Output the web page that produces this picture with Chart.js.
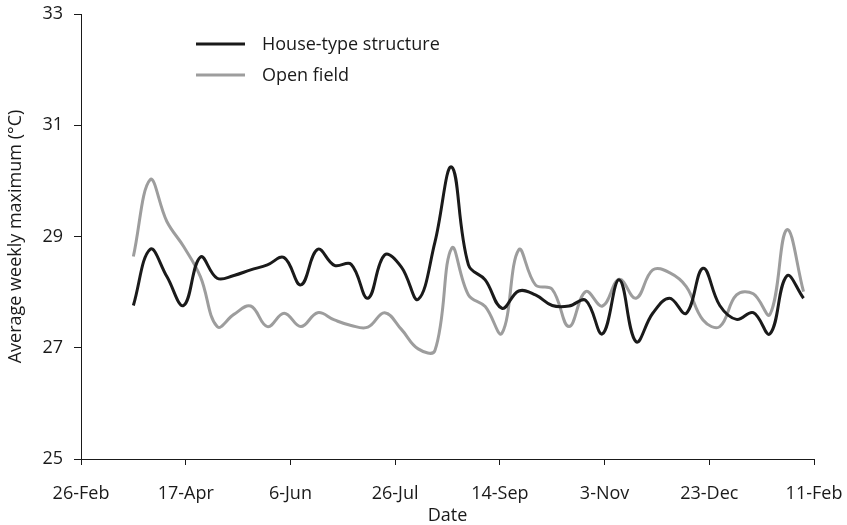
<!DOCTYPE html>
<html>
<head>
<meta charset="utf-8">
<script src="https://cdn.jsdelivr.net/npm/chart.js@4"></script>
<style>
  html, body { margin: 0; padding: 0; background: #ffffff; }
  #wrap { width: 847px; height: 525px; }
</style>
</head>
<body>
<div id="wrap"><canvas id="chart" width="847" height="525"></canvas></div>
<script>
// Day of the season, counted from 26-Feb, for each reading
const days = [25, 33, 41, 49, 57, 65, 73, 81, 89, 97, 105, 113, 121, 129, 137, 145,
  153, 161, 169, 177, 185, 193, 201, 209, 217, 225, 233, 241, 249, 257, 265, 273,
  281, 289, 297, 305, 313, 321, 329, 337, 345];

// Average weekly maximum temperature (°C)
const houseType = [27.76, 28.77, 28.28, 27.76, 28.63, 28.25, 28.30, 28.40, 28.49, 28.62,
  28.13, 28.77, 28.48, 28.50, 27.89, 28.67, 28.45, 27.87, 28.90, 30.25,
  28.49, 28.22, 27.71, 28.02, 27.95, 27.76, 27.75, 27.85, 27.25, 28.22,
  27.11, 27.62, 27.89, 27.62, 28.43, 27.76, 27.51, 27.63, 27.25, 28.29, 27.89];

const openField = [28.64, 30.02, 29.27, 28.82, 28.28, 27.38, 27.60, 27.75, 27.38, 27.62,
  27.38, 27.63, 27.50, 27.40, 27.37, 27.63, 27.33, 26.98, 26.95, 28.79,
  27.95, 27.74, 27.26, 28.76, 28.13, 28.05, 27.38, 28.01, 27.75, 28.23,
  27.89, 28.40, 28.35, 28.10, 27.50, 27.38, 27.95, 27.97, 27.60, 29.12, 28.01];

const seriesNames = ['House-type structure', 'Open field'];
const xTickLabels = ['26-Feb', '17-Apr', '6-Jun', '26-Jul', '14-Sep', '3-Nov', '23-Dec', '11-Feb'];

const FONT = '"Open Sans", Lato, sans-serif';
const FONT_SIZE = 18;
const INK = '#1a1a1a';
const GREY = '#9d9d9d';

function toPoints(values) {
  return values.map((v, i) => ({ x: days[i], y: v }));
}

// Legend drawn inside the plot area, top left
const insideLegend = {
  id: 'insideLegend',
  afterDraw(chart) {
    const ctx = chart.ctx;
    ctx.save();
    ctx.font = FONT_SIZE + 'px ' + FONT;
    ctx.textBaseline = 'middle';
    ctx.textAlign = 'left';
    chart.data.datasets.forEach((ds, i) => {
      const y = 44 + i * 31;
      ctx.strokeStyle = ds.borderColor;
      ctx.lineWidth = 3;
      ctx.beginPath();
      ctx.moveTo(196, y);
      ctx.lineTo(245, y);
      ctx.stroke();
      ctx.fillStyle = INK;
      ctx.fillText(ds.label, 262, y + 1);
    });
    ctx.restore();
  }
};

new Chart(document.getElementById('chart'), {
  type: 'line',
  data: {
    datasets: [
      {
        label: seriesNames[0],
        data: toPoints(houseType),
        borderColor: INK,
        borderWidth: 3,
        pointRadius: 0,
        tension: 0.4,
        fill: false
      },
      {
        label: seriesNames[1],
        data: toPoints(openField),
        borderColor: GREY,
        borderWidth: 3,
        pointRadius: 0,
        tension: 0.4,
        fill: false
      }
    ]
  },
  options: {
    responsive: false,
    animation: false,
    devicePixelRatio: 1,
    layout: { padding: { left: 0, right: 33, top: 14, bottom: 0 } },
    plugins: {
      legend: { display: false },
      tooltip: { enabled: false }
    },
    scales: {
      x: {
        type: 'linear',
        min: 0,
        max: 350,
        afterFit(scale) {
          scale.height = 66;
          scale.paddingLeft = 0;
          scale.paddingRight = 0;
        },
        ticks: {
          stepSize: 50,
          color: INK,
          font: { family: FONT, size: FONT_SIZE },
          padding: 18,
          maxRotation: 0,
          callback: (v) => xTickLabels[Math.round(v / 50)]
        },
        grid: { drawOnChartArea: false, drawTicks: true, tickLength: 6, color: INK, lineWidth: 1 },
        border: { display: true, color: INK, width: 1 },
        title: {
          display: true,
          text: 'Date',
          color: INK,
          font: { family: FONT, size: FONT_SIZE, lineHeight: 1 },
          padding: { top: 0, bottom: 0 }
        }
      },
      y: {
        min: 25,
        max: 33,
        afterFit(scale) {
          scale.width = 81;
          scale.paddingTop = 0;
          scale.paddingBottom = 0;
        },
        ticks: {
          stepSize: 2,
          color: INK,
          font: { family: FONT, size: FONT_SIZE },
          padding: 11
        },
        grid: { drawOnChartArea: false, drawTicks: true, tickLength: 7, color: INK, lineWidth: 1 },
        border: { display: true, color: INK, width: 1 },
        title: {
          display: true,
          text: 'Average weekly maximum (°C)',
          color: INK,
          font: { family: FONT, size: FONT_SIZE },
          padding: { top: 5, bottom: 4 }
        }
      }
    }
  },
  plugins: [insideLegend]
});
</script>
</body>
</html>
